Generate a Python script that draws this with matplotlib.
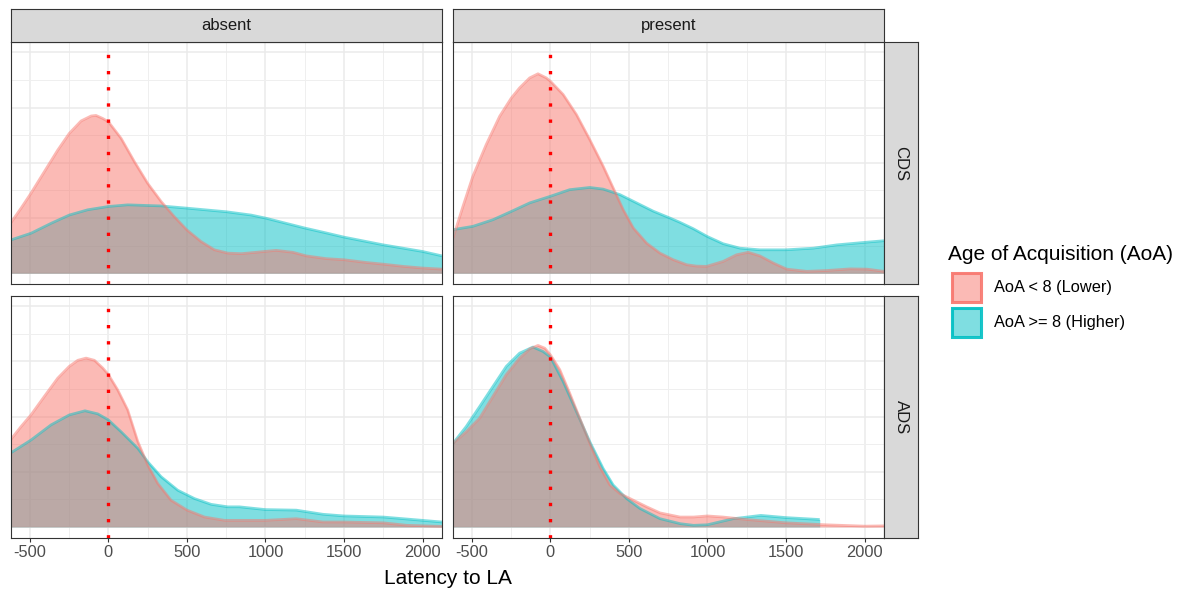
import matplotlib
matplotlib.use("Agg")
import matplotlib.pyplot as plt
from matplotlib.patches import Rectangle

plt.rcParams['font.family'] = ['Liberation Sans', 'DejaVu Sans']
plt.rcParams['axes.unicode_minus'] = False

# ---------------- data (density, in grid-step units) ----------------
cols_facets = ["absent", "present"]
rows_facets = ["CDS", "ADS"]
group_labels = ["AoA < 8 (Lower)", "AoA >= 8 (Higher)"]
legend_title = "Age of Acquisition (AoA)"
x_label = "Latency to LA"
x_ticks = [-500, 0, 500, 1000, 1500, 2000]

absent_cds_low_x = [-620, -556, -493, -408, -323, -249, -174, -110, -79, -36, 0, 81, 166, 250, 336, 420, 500, 590, 675, 760, 846, 940, 1068, 1175, 1260, 1388, 1500, 1643, 1750, 1877, 2000, 2124]
absent_cds_low_y = [1.84, 2.36, 2.90, 3.68, 4.46, 5.07, 5.52, 5.70, 5.72, 5.61, 5.49, 4.89, 4.04, 3.26, 2.60, 2.05, 1.57, 1.15, 0.85, 0.73, 0.71, 0.76, 0.83, 0.76, 0.63, 0.53, 0.49, 0.39, 0.33, 0.25, 0.19, 0.15]
absent_cds_high_x = [-620, -493, -365, -249, -132, 0, 123, 230, 336, 500, 750, 909, 1000, 1111, 1250, 1388, 1500, 1750, 2000, 2124]
absent_cds_high_y = [1.21, 1.45, 1.81, 2.11, 2.30, 2.42, 2.48, 2.46, 2.44, 2.36, 2.23, 2.11, 2.00, 1.84, 1.64, 1.46, 1.31, 1.03, 0.79, 0.63]

present_cds_low_x = [-620, -557, -494, -409, -323, -249, -196, -132, -79, -26, 0, 81, 166, 251, 336, 400, 464, 528, 613, 698, 783, 868, 930, 994, 1100, 1185, 1260, 1334, 1420, 1505, 1633, 1760, 1910, 2016, 2124]
present_cds_low_y = [1.28, 2.42, 3.51, 4.66, 5.69, 6.35, 6.72, 7.08, 7.23, 7.08, 6.96, 6.48, 5.75, 4.84, 3.88, 3.09, 2.30, 1.64, 1.09, 0.73, 0.49, 0.31, 0.26, 0.25, 0.43, 0.67, 0.76, 0.63, 0.37, 0.15, 0.07, 0.10, 0.16, 0.15, 0.07]
present_cds_high_x = [-620, -494, -366, -249, -132, 0, 123, 251, 336, 443, 549, 655, 762, 823, 908, 1000, 1100, 1207, 1334, 1500, 1675, 1824, 2000, 2124]
present_cds_high_y = [1.58, 1.70, 1.94, 2.24, 2.55, 2.79, 3.03, 3.11, 3.05, 2.85, 2.55, 2.25, 2.00, 1.85, 1.62, 1.33, 1.07, 0.91, 0.85, 0.85, 0.91, 1.03, 1.12, 1.18]

absent_ads_low_x = [-620, -556, -493, -408, -323, -249, -195, -142, -89, -36, 0, 59, 123, 187, 251, 314, 399, 501, 612, 739, 834, 1000, 1196, 1366, 1500, 1750, 1900, 2124]
absent_ads_low_y = [3.18, 3.64, 4.06, 4.73, 5.39, 5.82, 6.04, 6.12, 6.04, 5.76, 5.52, 4.97, 4.24, 3.10, 2.24, 1.58, 0.97, 0.61, 0.36, 0.24, 0.24, 0.24, 0.30, 0.18, 0.18, 0.15, 0.06, 0.02]
absent_ads_high_x = [-620, -493, -365, -249, -149, -68, 0, 81, 187, 251, 336, 442, 548, 654, 760, 834, 1000, 1196, 1366, 1500, 1750, 2000, 2124]
absent_ads_high_y = [2.69, 3.15, 3.70, 4.06, 4.21, 4.10, 3.88, 3.45, 2.85, 2.36, 1.82, 1.33, 1.03, 0.82, 0.73, 0.73, 0.63, 0.61, 0.46, 0.40, 0.36, 0.24, 0.18]

present_ads_low_x = [-620, -536, -451, -366, -281, -196, -132, -79, -36, 0, 60, 123, 187, 251, 315, 379, 443, 528, 613, 698, 826, 911, 1000, 1100, 1250, 1500, 1750, 2000, 2124]
present_ads_low_y = [3.03, 3.45, 3.94, 4.73, 5.52, 6.12, 6.45, 6.58, 6.48, 6.24, 5.70, 4.85, 3.94, 3.03, 2.18, 1.52, 1.21, 0.97, 0.73, 0.51, 0.36, 0.36, 0.40, 0.36, 0.27, 0.15, 0.08, 0.03, 0.04]
present_ads_high_x = [-620, -536, -451, -366, -281, -196, -111, -47, 0, 81, 166, 251, 336, 400, 485, 570, 698, 826, 911, 1000, 1165, 1340, 1500, 1715]
present_ads_high_y = [3.03, 3.64, 4.36, 5.09, 5.82, 6.30, 6.52, 6.36, 6.16, 5.27, 4.18, 3.09, 2.12, 1.52, 1.03, 0.67, 0.30, 0.12, 0.06, 0.08, 0.30, 0.42, 0.34, 0.27]

panels = {
    ("CDS", "absent"): [(absent_cds_high_x, absent_cds_high_y), (absent_cds_low_x, absent_cds_low_y)],
    ("CDS", "present"): [(present_cds_high_x, present_cds_high_y), (present_cds_low_x, present_cds_low_y)],
    ("ADS", "absent"): [(absent_ads_high_x, absent_ads_high_y), (absent_ads_low_x, absent_ads_low_y)],
    ("ADS", "present"): [(present_ads_high_x, present_ads_high_y), (present_ads_low_x, present_ads_low_y)],
}

# ---------------- styling ----------------
PINK = "#F8766D"
TEAL = "#00BFC4"
draw_colors = [TEAL, PINK]   # high drawn first, low on top
W, H = 1189, 593
fig = plt.figure(figsize=(W / 100, H / 100), dpi=100)


def add_ax(x0, y0, x1, y1):
    return fig.add_axes([x0 / W, 1 - y1 / H, (x1 - x0) / W, (y1 - y0) / H])


col_x = [(11, 442), (453, 884)]
row_y = [(42, 284), (295.7, 537.7)]

for ri, row in enumerate(rows_facets):
    for ci, col in enumerate(cols_facets):
        x0, x1 = col_x[ci]
        y0, y1 = row_y[ri]
        ax = add_ax(x0, y0, x1, y1)
        ax.set_xlim(-620, 2124)
        ax.set_ylim(-0.39, 8.38)
        ax.set_xticks(x_ticks)
        ax.set_xticks([-250, 250, 750, 1250, 1750], minor=True)
        ax.set_yticks([0, 2, 4, 6, 8])
        ax.set_yticks([1, 3, 5, 7], minor=True)
        ax.grid(which="major", color="#EBEBEB", lw=1.1)
        ax.grid(which="minor", color="#EFEFEF", lw=0.7)
        ax.set_axisbelow(True)
        for s in ax.spines.values():
            s.set_color("#333333")
            s.set_linewidth(0.8)
        ax.tick_params(axis="y", which="both", left=False, labelleft=False)
        ax.tick_params(axis="x", which="minor", bottom=False)
        if ri == len(rows_facets) - 1:
            ax.tick_params(axis="x", which="major", length=3, width=0.8, color="#333333",
                           labelsize=11.8, labelcolor="#4D4D4D", pad=2.5)
        else:
            ax.tick_params(axis="x", which="major", bottom=False, labelbottom=False)

        for (xs, ys), c in zip(panels[(row, col)], draw_colors):
            ax.fill_between(xs, ys, 0, color=c, alpha=0.5, lw=0, zorder=2)
            ax.plot(xs, ys, color=c, alpha=0.5, lw=1.9, zorder=2.5,
                    solid_joinstyle="round", solid_capstyle="butt")
        ax.axvline(0, color="red", lw=2.4, linestyle=(0, (1, 3.85)),
                   dash_capstyle="butt", zorder=3)

# strips
for ci, col in enumerate(cols_facets):
    x0, x1 = col_x[ci]
    sax = add_ax(x0, 9, x1, 42)
    sax.set_facecolor("#D9D9D9")
    sax.set_xticks([]); sax.set_yticks([])
    for s in sax.spines.values():
        s.set_color("#333333"); s.set_linewidth(0.8)
    sax.text(0.5, 0.5, col, ha="center", va="center", fontsize=12, color="#1A1A1A",
             transform=sax.transAxes)

for ri, row in enumerate(rows_facets):
    y0, y1 = row_y[ri]
    sax = add_ax(884, y0, 918, y1)
    sax.set_facecolor("#D9D9D9")
    sax.set_xticks([]); sax.set_yticks([])
    for s in sax.spines.values():
        s.set_color("#333333"); s.set_linewidth(0.8)
    sax.text(0.5, 0.5, row, ha="center", va="center", fontsize=12, color="#1A1A1A",
             rotation=270, transform=sax.transAxes)

# axis title
fig.text(447.5 / W, 1 - 578 / H, x_label, ha="center", va="center", fontsize=15, color="black")

# legend
fig.text(948 / W, 1 - 254 / H, legend_title, ha="left", va="center", fontsize=15, color="black")
legend_colors = [PINK, TEAL]
key_tops = [272, 307]
for lab, c, kt in zip(group_labels, legend_colors, key_tops):
    fig.patches.append(Rectangle((951.5 / W, 1 - (kt + 30) / H), 29 / W, 29 / H,
                                 transform=fig.transFigure, facecolor=c, alpha=0.5,
                                 edgecolor="none"))
    fig.patches.append(Rectangle((951.5 / W, 1 - (kt + 30) / H), 29 / W, 29 / H,
                                 transform=fig.transFigure, facecolor="none",
                                 edgecolor=c, lw=2.2, alpha=0.9))
    fig.text(994 / W, 1 - (kt + 16) / H, lab, ha="left", va="center", fontsize=11.8, color="black")

fig.savefig("out.png", dpi=100, facecolor="white")
